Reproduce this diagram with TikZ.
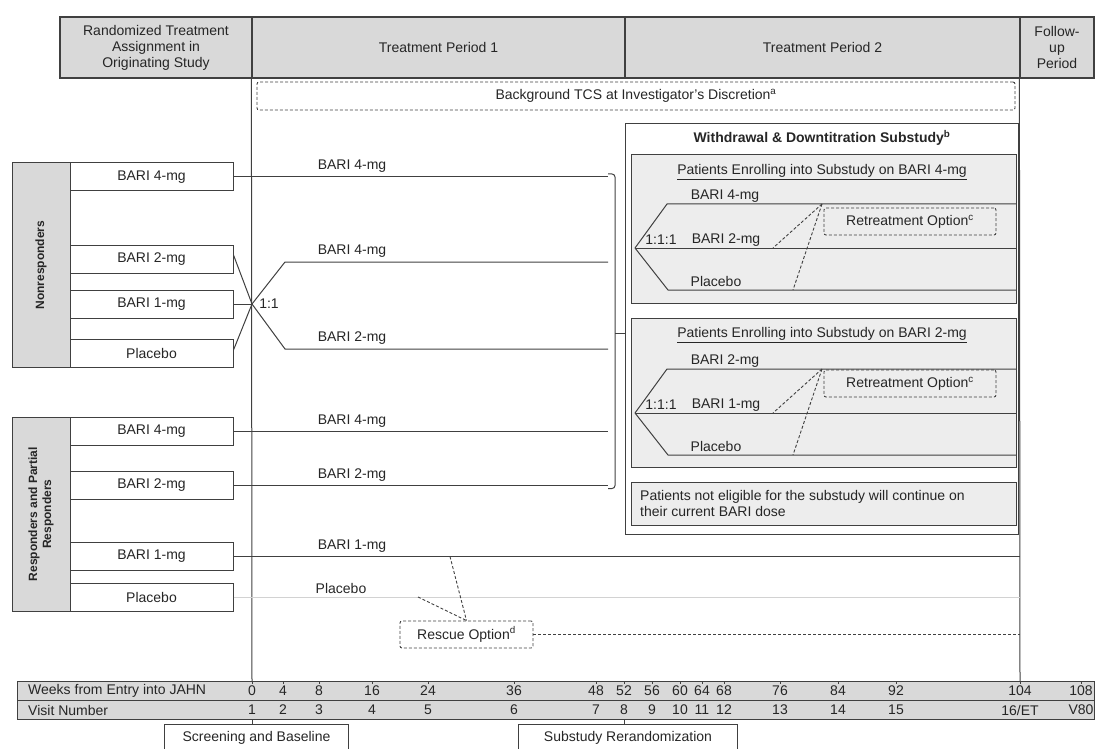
\documentclass[tikz,border=0pt]{standalone}
\usepackage{fontspec}
\setmainfont{Liberation Sans}
\usetikzlibrary{positioning, calc}

\definecolor{hdrgray}{gray}{0.85}
\definecolor{boxgray}{gray}{0.93}
\definecolor{linegray}{gray}{0.25}

\begin{document}
\begin{tikzpicture}[x=1pt, y=-1pt, font=\fontsize{14}{16}\selectfont, text=black!85,
  hdr/.style={draw=linegray, fill=hdrgray, line width=1.2pt, align=center, inner sep=0pt},
  grp/.style={draw=linegray, fill=hdrgray, line width=1pt, rotate=90, align=center, inner sep=0pt, font=\fontsize{12}{14}\selectfont\bfseries},
  dose/.style={draw=linegray, fill=white, line width=1pt, minimum width=163pt, minimum height=28pt, inner sep=0pt},
  arm/.style={draw=linegray, line width=1pt},
  optline/.style={draw=linegray, line width=0.9pt, dash pattern=on 3pt off 2pt},
  optbox/.style={draw=linegray, line width=0.9pt, dash pattern=on 3pt off 2pt, rounded corners=2pt, inner sep=0pt},
  lbl/.style={inner sep=0pt}]

\useasboundingbox (0,0) rectangle (1096,749);

% --- Header ---
\node[hdr, minimum width=192pt, minimum height=61pt] (hdrA) at (156,47.5) {Randomized Treatment\\Assignment in\\Originating Study};
\node[hdr, minimum width=373pt, minimum height=61pt] (hdrB) at (438.5,47.5) {Treatment Period 1};
\node[hdr, minimum width=395pt, minimum height=61pt] (hdrC) at (822.5,47.5) {Treatment Period 2};
\node[hdr, minimum width=74pt, minimum height=61pt] (hdrD) at (1057,47.5) {Follow-\\up\\Period};

% period borders
\draw[arm] (hdrB.south west) -- (252,681);
\draw[arm] (hdrD.south west) -- (1020,681);

\node[optbox, minimum width=758pt, minimum height=28pt] (tcs) at (636,96) {Background TCS at Investigator's Discretion\textsuperscript{a}};

% --- Nonresponders ---
\node[grp, minimum width=204pt, minimum height=58pt] (nonresp) at (41,265) {Nonresponders};
\node[dose] (nr4) at (151.5,177) {BARI 4-mg};
\node[dose] (nr2) at (151.5,259) {BARI 2-mg};
\node[dose] (nr1) at (151.5,304) {BARI 1-mg};
\node[dose] (nrp) at (151.5,353) {Placebo};

% --- Responders ---
\node[grp, minimum width=194pt, minimum height=58pt] (resp) at (41,514) {Responders and Partial\\Responders};
\node[dose] (r4) at (151.5,431) {BARI 4-mg};
\node[dose] (r2) at (151.5,485.5) {BARI 2-mg};
\node[dose] (r1) at (151.5,556.5) {BARI 1-mg};
\node[dose] (rp) at (151.5,597) {Placebo};

% --- Treatment Period 1 arms ---
\coordinate (rand) at (252,304);
\coordinate (nrA) at (285,262);
\coordinate (nrB) at (285,349);
\coordinate (nr4end) at (608,177);
\coordinate (nrAend) at (608,262);
\coordinate (nrBend) at (608,349);
\coordinate (r4end) at (608,431);
\coordinate (r2end) at (608,485.5);
\coordinate (r1end) at (1020,556.5);
\coordinate (rpend) at (1020,597);

\draw[arm] (nr4.east) -- (nr4end);
\draw[arm] ($(nr2.east)+(0,-4)$) -- (rand);
\draw[arm] (nr1.east) -- (rand);
\draw[arm] ($(nrp.east)+(0,-3)$) -- (rand);
\draw[arm] (rand) -- (nrA) -- (nrAend);
\draw[arm] (rand) -- (nrB) -- (nrBend);
\node[lbl] at (269,304) {1:1};
\draw[arm] (r4.east) -- (r4end);
\draw[arm] (r2.east) -- (r2end);
\draw[arm] (r1.east) -- (r1end);
\draw[line width=1pt, gray!35] (rp.east) -- (rpend);

\node[lbl] at (352,166) {BARI 4-mg};
\node[lbl] at (352,251) {BARI 4-mg};
\node[lbl] at (352,338) {BARI 2-mg};
\node[lbl] at (352,421) {BARI 4-mg};
\node[lbl] at (352,475) {BARI 2-mg};
\node[lbl] at (352,546) {BARI 1-mg};
\node[lbl] at (341,588) {Placebo};

% bracket into substudy
\coordinate (brTop) at (608,174);
\coordinate (brMid) at (615,333);
\coordinate (brBot) at (608,488.5);
\draw[arm, rounded corners=3pt] (brTop) -| (brMid) |- (brBot);

% --- Rescue ---
\node[optbox, minimum width=133pt, minimum height=27pt] (rescue) at (466.5,634.5) {Rescue Option\textsuperscript{d}};
\coordinate (r1tap) at (450,556.5);
\coordinate (rptap) at (418,597);
\coordinate (rescEnd) at (1020,634.5);
\draw[optline] (r1tap) -- (rescue.north);
\draw[optline] (rptap) -- (rescue.north);
\draw[optline] (rescue.east) -- (rescEnd);

% --- Substudy ---
\node[draw=linegray, line width=1.8pt, fill=white, minimum width=393pt, minimum height=411pt, inner sep=0pt] (sub) at (822,329) {};
\draw[arm] (brMid) -- (brMid -| sub.west);
\node[font=\fontsize{14}{16}\selectfont\bfseries] (subTitle) at (822,138) {Withdrawal \& Downtitration Substudy\textsuperscript{b}};

\begin{scope}
    \node[draw=linegray, line width=1pt, fill=boxgray, minimum width=385pt, minimum height=148pt, inner sep=0pt] (subA) at (823.5,229) {};
    \node[lbl] at (822,172) {\underline{Patients Enrolling into Substudy on BARI 4-mg}};
    \coordinate (aO) at (635,248);
    \coordinate (aT) at (667,204);
    \coordinate (aB) at (668,290);
    \draw[arm] (aO) -- (aT) -- (aT -| subA.east);
    \draw[arm] (aO) -- (aO -| subA.east);
    \draw[arm] (aO) -- (aB) -- (aB -| subA.east);
    \node[lbl] at (725,196) {BARI 4-mg};
    \node[lbl] at (661,240) {1:1:1};
    \node[lbl] at (726,240) {BARI 2-mg};
    \node[lbl] at (716,281) {Placebo};
    \node[optbox, minimum width=172pt, minimum height=27pt] (retA) at (910,221.5) {Retreatment Option\textsuperscript{c}};
    \coordinate (aTap) at (822,204);
    \coordinate (aMid) at (773,248);
    \coordinate (aLow) at (793,290);
    \draw[optline] (aTap) -- (aMid);
    \draw[optline] (aTap) -- (aLow);
\end{scope}

\begin{scope}
    \node[draw=linegray, line width=1pt, fill=boxgray, minimum width=385pt, minimum height=149pt, inner sep=0pt] (subB) at (823.5,392.5) {};
    \node[lbl] at (822,335) {\underline{Patients Enrolling into Substudy on BARI 2-mg}};
    \coordinate (bO) at (635,413);
    \coordinate (bT) at (667,369);
    \coordinate (bB) at (668,455);
    \draw[arm] (bO) -- (bT) -- (bT -| subB.east);
    \draw[arm] (bO) -- (bO -| subB.east);
    \draw[arm] (bO) -- (bB) -- (bB -| subB.east);
    \node[lbl] at (725,361) {BARI 2-mg};
    \node[lbl] at (661,405) {1:1:1};
    \node[lbl] at (726,405) {BARI 1-mg};
    \node[lbl] at (716,446) {Placebo};
    \node[optbox, minimum width=172pt, minimum height=27pt] (retB) at (910,383.5) {Retreatment Option\textsuperscript{c}};
    \coordinate (bTap) at (822,369);
    \coordinate (bMid) at (773,413);
    \coordinate (bLow) at (793,455);
    \draw[optline] (bTap) -- (bMid);
    \draw[optline] (bTap) -- (bLow);
\end{scope}

\node[draw=linegray, line width=1pt, fill=boxgray, minimum width=385pt, minimum height=43pt, inner sep=0pt] (notElig) at (823.5,503.5) {};
\node[lbl, align=left, anchor=west] at (640,503.5) {Patients not eligible for the substudy will continue on\\their current BARI dose};

% --- Time axis ---
\node[draw=linegray, line width=1.2pt, fill=hdrgray, minimum width=1077pt, minimum height=19pt, anchor=north west, inner sep=0pt] (weeks) at (17,681) {};
\node[draw=linegray, line width=1.2pt, fill=hdrgray, minimum width=1077pt, minimum height=19pt, anchor=north west, inner sep=0pt] (visits) at (17,700) {};
\node[lbl, anchor=west] at (28,690.5) {Weeks from Entry into JAHN};
\node[lbl, anchor=west] at (28,710) {Visit Number};

\foreach \x/\w/\v in {252/0/1, 283/4/2, 319/8/3, 372/16/4, 428/24/5, 514/36/6, 596/48/7, 624/52/8, 652/56/9, 680/60/10, 702/64/11, 724/68/12, 780/76/13, 838/84/14, 896/92/15, 1020/104/16\slash ET, 1081/108/V80} {
    \draw[arm] (\x,681) -- (\x,684);
    \node[lbl] at (\x,691) {\w};
    \node[lbl] at (\x,710) {\v};
}

\node[draw=linegray, line width=1pt, minimum width=184pt, minimum height=27pt, anchor=north west, inner sep=0pt] (screen) at (164,724) {Screening and Baseline};
\node[draw=linegray, line width=1pt, minimum width=219pt, minimum height=27pt, anchor=north west, inner sep=0pt] (rerand) at (518,724) {Substudy Rerandomization};
\draw[arm] (252,719) -- (screen.north -| 252,0);
\draw[arm] (624,719) -- (rerand.north -| 624,0);

\end{tikzpicture}
\end{document}
